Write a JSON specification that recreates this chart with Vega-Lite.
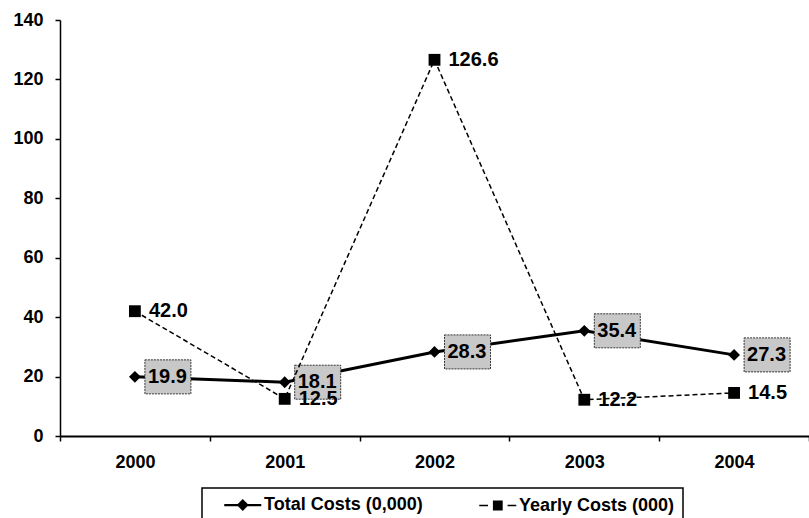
{
  "$schema": "https://vega.github.io/schema/vega-lite/v6.json",
  "width": 749,
  "height": 416,
  "autosize": {"type": "none"},
  "padding": {"left": 60, "top": 20, "right": 0, "bottom": 82},
  "background": "white",
  "config": {
    "view": {"stroke": null},
    "font": "Liberation Sans",
    "axis": {
      "domainColor": "black",
      "tickColor": "black",
      "labelColor": "black",
      "labelFont": "Liberation Sans",
      "labelFontWeight": "bold",
      "labelFontSize": 18,
      "tickSize": 5,
      "grid": false,
      "title": null
    },
    "legend": {
      "strokeColor": "black",
      "strokeWidth": 1.5,
      "padding": 8,
      "labelFont": "Liberation Sans",
      "labelFontWeight": "bold",
      "labelFontSize": 18,
      "labelColor": "black",
      "labelOffset": 36,
      "columnPadding": 42,
      "symbolSize": 196,
      "symbolFillColor": "black",
      "symbolStrokeColor": "black",
      "symbolStrokeWidth": 2,
      "symbolOpacity": 1
    }
  },
  "data": {
    "values": [
      {"year": "2000", "series": "Total Costs (0,000)", "value": 19.9},
      {"year": "2001", "series": "Total Costs (0,000)", "value": 18.1},
      {"year": "2002", "series": "Total Costs (0,000)", "value": 28.3},
      {"year": "2003", "series": "Total Costs (0,000)", "value": 35.4},
      {"year": "2004", "series": "Total Costs (0,000)", "value": 27.3},
      {"year": "2000", "series": "Yearly Costs (000)", "value": 42.0},
      {"year": "2001", "series": "Yearly Costs (000)", "value": 12.5},
      {"year": "2002", "series": "Yearly Costs (000)", "value": 126.6},
      {"year": "2003", "series": "Yearly Costs (000)", "value": 12.2},
      {"year": "2004", "series": "Yearly Costs (000)", "value": 14.5}
    ]
  },
  "encoding": {
    "x": {
      "field": "year",
      "type": "ordinal",
      "scale": {"type": "band", "paddingInner": 0, "paddingOuter": 0},
      "axis": {"labelAngle": 0, "tickBand": "extent", "domainWidth": 2, "tickWidth": 1.5, "labelPadding": 12}
    },
    "y": {
      "field": "value",
      "type": "quantitative",
      "scale": {"domain": [0, 140], "nice": false, "zero": true},
      "axis": {"values": [0, 20, 40, 60, 80, 100, 120, 140], "domainWidth": 1.5, "tickWidth": 1.5, "labelPadding": 12}
    }
  },
  "resolve": {"scale": {"shape": "independent"}},
  "layer": [
    {
      "transform": [{"filter": "datum.series === 'Total Costs (0,000)'"}],
      "mark": {"type": "line", "color": "black", "strokeWidth": 3}
    },
    {
      "transform": [{"filter": "datum.series === 'Total Costs (0,000)'"}],
      "mark": {
        "type": "point",
        "shape": "M0.2,-0.34H1.12V0.34H0.2Z",
        "size": 10000,
        "filled": true,
        "fill": "#c8c8c8",
        "fillOpacity": 1,
        "stroke": "#333333",
        "strokeWidth": 1,
        "strokeDash": [2, 1],
        "opacity": 1
      }
    },
    {
      "transform": [{"filter": "datum.series === 'Total Costs (0,000)'"}],
      "mark": {"type": "text", "align": "left", "baseline": "middle", "dx": 13, "font": "Liberation Sans", "fontWeight": "bold", "fontSize": 20, "color": "black"},
      "encoding": {"text": {"field": "value", "type": "quantitative", "format": ".1f"}}
    },
    {
      "transform": [{"filter": "datum.series === 'Yearly Costs (000)'"}],
      "mark": {"type": "line", "color": "black", "strokeWidth": 1.5, "strokeDash": [5, 3]}
    },
    {
      "mark": {"type": "point", "filled": true, "opacity": 1, "color": "black", "size": 140},
      "encoding": {
        "shape": {
          "field": "series",
          "type": "nominal",
          "scale": {"domain": ["Total Costs (0,000)", "Yearly Costs (000)"], "range": ["diamond", "square"]},
          "legend": null
        }
      }
    },
    {
      "transform": [{"filter": "false"}],
      "mark": {"type": "point", "filled": false, "opacity": 1, "fill": "black", "fillOpacity": 1, "stroke": "black", "strokeWidth": 2},
      "encoding": {
        "shape": {
          "field": "series",
          "type": "nominal",
          "scale": {
            "domain": ["Total Costs (0,000)", "Yearly Costs (000)"],
            "range": [
              "M0.75,-0.16H6.04V0.16H0.75ZM3.39,-0.85L4.24,0L3.39,0.85L2.54,0Z",
              "M0.75,-0.11H2.0V0.11H0.75ZM4.8,-0.11H6.04V0.11H4.8ZM2.7,-0.7H4.1V0.7H2.7Z"
            ]
          },
          "legend": {
            "title": null,
            "orient": "none",
            "legendX": 142,
            "legendY": 468,
            "direction": "horizontal",
            "labelExpr": "datum.label === 'Yearly Costs (000)' ? datum.label + '\u00a0\u00a0\u00a0' : datum.label"
          }
        }
      }
    },
    {
      "transform": [{"filter": "datum.series === 'Yearly Costs (000)'"}],
      "mark": {"type": "text", "align": "left", "baseline": "middle", "dx": 14, "font": "Liberation Sans", "fontWeight": "bold", "fontSize": 20, "color": "black"},
      "encoding": {"text": {"field": "value", "type": "quantitative", "format": ".1f"}}
    }
  ]
}
